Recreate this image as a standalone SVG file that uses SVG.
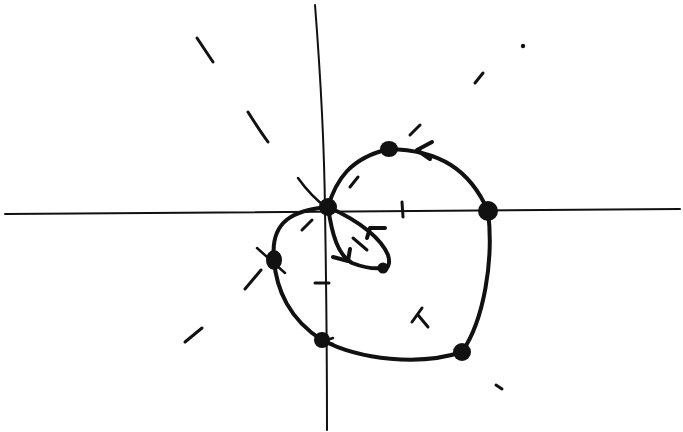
<svg xmlns="http://www.w3.org/2000/svg" width="683" height="432" viewBox="0 0 683 432">
<style>
.ax{fill:none;stroke:#111;stroke-width:2;stroke-linecap:round}
.cv{fill:none;stroke:#111;stroke-width:4;stroke-linecap:round;stroke-linejoin:round}
.th{fill:none;stroke:#111;stroke-width:2.5;stroke-linecap:round}
.ds{fill:none;stroke:#111;stroke-width:3;stroke-linecap:round}
.dt{fill:#111}
</style>
<rect width="683" height="432" fill="#fff"/>
<g id="axes">
<path class="ax" d="M5,214 L680,209"/>
<path class="ax" d="M315,5 Q324,120 325,210 Q327,330 327,430"/>
<path class="ds" d="M402,202 L403,217"/>
<path class="ds" d="M315,283 L329,283"/>
</g>
<g id="connectors">
<path class="cv" d="M328,207 C336,180 350,158 389,149"/>
<path class="cv" d="M389,149 C440,150 470,170 488,211"/>
<path class="cv" d="M488,211 C494,260 484,320 462,352"/>
<path class="cv" d="M462,352 C420,366 360,360 322,340"/>
<path class="cv" d="M322,340 C290,320 276,290 274,259"/>
<path class="cv" d="M274,259 C270,220 295,210 328,207"/>
<path class="cv" d="M328,207 C362,222 382,240 388,255 C391,265 387,270 383,268"/>
<path class="cv" d="M328,207 C332,235 338,255 352,263 C365,268 375,269 383,268"/>
<path class="th" d="M298,178 C308,192 316,200 327,208"/>
<path class="cv" d="M432,142 L417,150 L430,159"/>
<path class="cv" d="M385,228 L370,228 L367,238"/>
<path class="cv" d="M333,257 L348,261 L350,249"/>
<path class="th" d="M257,248 L285,273"/>
<path class="th" d="M333,338 L324,341 L333,344"/>
</g>
<g id="nodes">
<ellipse id="n0" class="dt" cx="328" cy="207" rx="9" ry="9"/>
<ellipse id="n1" class="dt" cx="389" cy="149" rx="9" ry="8"/>
<ellipse id="n2" class="dt" cx="488" cy="211" rx="10" ry="10"/>
<ellipse id="n3" class="dt" cx="462" cy="352" rx="9" ry="9"/>
<ellipse id="n4" class="dt" cx="322" cy="340" rx="8" ry="8"/>
<ellipse id="n5" class="dt" cx="274" cy="260" rx="8" ry="10"/>
<ellipse id="n6" class="dt" cx="383" cy="268" rx="5.5" ry="5.5"/>
</g>
<g id="marks">
<path class="ds" d="M197,38 L213,62"/>
<path class="ds" d="M248,112 Q258,128 268,142"/>
<path class="ds" d="M475,83 L483,73"/>
<circle class="dt" cx="523" cy="46" r="2.2"/>
<path class="ds" d="M420,125 L410,135"/>
<path class="ds" d="M350,187 L358,177"/>
<path class="ds" d="M302,230 L312,220"/>
<path class="ds" d="M353,238 L367,250"/>
<path class="ds" d="M245,289 L261,270"/>
<path class="ds" d="M185,342 L202,328"/>
<path class="ds" d="M496,385 L502,389"/>
<path class="ds" d="M412,322 L422,308"/>
<path class="ds" d="M418,315 L428,327"/>
</g>
</svg>
